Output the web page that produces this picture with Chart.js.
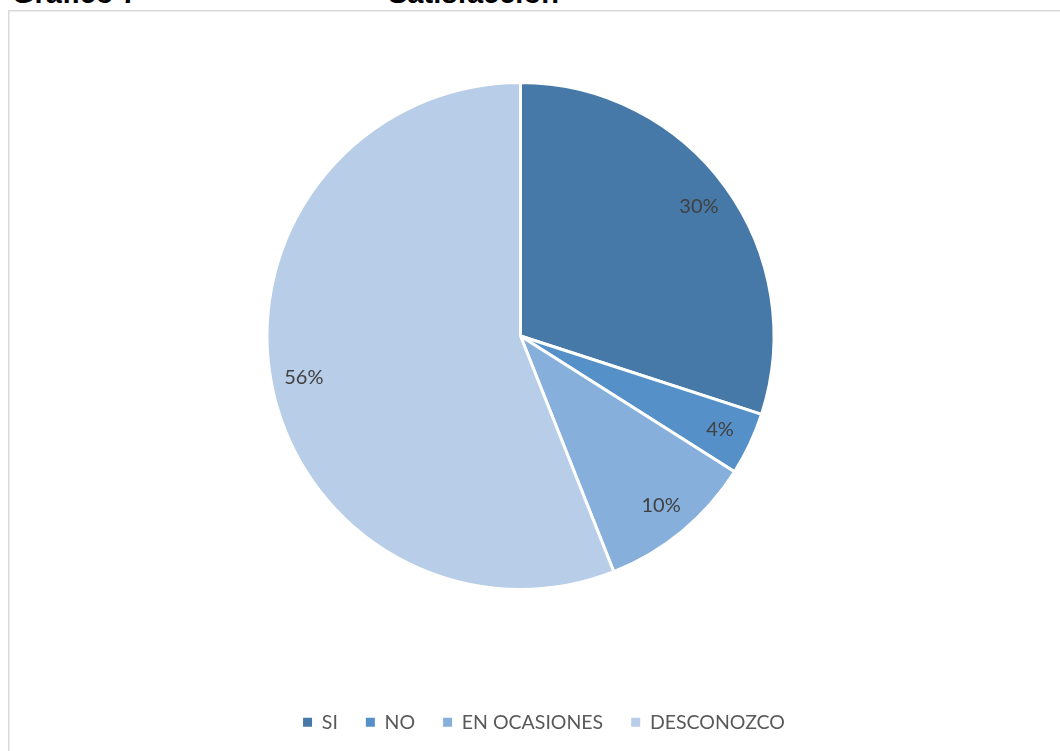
<!DOCTYPE html>
<html>
<head>
<meta charset="utf-8">
<script src="https://cdn.jsdelivr.net/npm/chart.js@4"></script>
<style>
  html, body { margin: 0; padding: 0; background: #fff; overflow: hidden; }
  .heading {
    position: absolute; top: -21px; margin: 0;
    font: bold 29px/29px "Liberation Sans", Arial, sans-serif; color: #000;
    white-space: nowrap;
  }
  .frame {
    position: absolute; left: 8px; top: 10px; width: 1100px; height: 800px;
    border: 1px solid #d9d9d9; box-shadow: inset 1px 1px 0 #ececec;
  }
  #wrap { position: absolute; left: 9px; top: 11px; }
</style>
</head>
<body>
<p class="heading" style="left:12px">Gráfico 7</p>
<p class="heading" style="left:388px">Satisfacción</p>
<div class="frame"></div>
<div id="wrap"><canvas id="pie" width="1070" height="731"></canvas></div>
<script>
const categories = ['SI', 'NO', 'EN OCASIONES', 'DESCONOZCO'];
const percents = [30, 4, 10, 56];
const colors = ['#4779a8', '#5591c8', '#86afdc', '#b8cde8'];

// pie sits a bit left of the legend centre, and stays square
const pieBox = {
  id: 'pieBox',
  afterLayout(chart) {
    const a = chart.chartArea;
    a.right -= 47;
    a.bottom = a.top + 510;
    a.width = a.right - a.left;
    a.height = a.bottom - a.top;
  }
};

// percentage text inside every slice
const sliceLabels = {
  id: 'sliceLabels',
  afterDatasetsDraw(chart) {
    const ctx = chart.ctx;
    const meta = chart.getDatasetMeta(0);
    ctx.save();
    ctx.font = '20px Lato, "Open Sans", sans-serif';
    ctx.fillStyle = '#404040';
    ctx.textAlign = 'center';
    ctx.textBaseline = 'middle';
    meta.data.forEach((arc, i) => {
      const p = arc.getProps(['x', 'y', 'startAngle', 'endAngle', 'outerRadius'], true);
      const mid = (p.startAngle + p.endAngle) / 2;
      const r = p.outerRadius * 0.87;
      ctx.fillText(percents[i] + '%', p.x + Math.cos(mid) * r, p.y + Math.sin(mid) * r);
    });
    ctx.restore();
  }
};

new Chart(document.getElementById('pie'), {
  type: 'pie',
  data: {
    labels: categories,
    datasets: [{
      data: percents,
      backgroundColor: colors,
      borderColor: '#ffffff',
      borderWidth: 3
    }]
  },
  options: {
    responsive: false,
    animation: false,
    layout: { padding: { top: 70 } },
    plugins: {
      tooltip: { enabled: false },
      legend: {
        position: 'bottom',
        labels: {
          boxWidth: 9,
          boxHeight: 9,
          padding: 28,
          color: '#595959',
          font: { family: 'Lato, "Open Sans", sans-serif', size: 19.5 },
          // plain squares, without the slice's white outline
          generateLabels: chart => Chart.overrides.pie.plugins.legend.labels
            .generateLabels(chart).map(item => ({ ...item, lineWidth: 0 }))
        }
      }
    }
  },
  plugins: [pieBox, sliceLabels]
});
</script>
</body>
</html>
